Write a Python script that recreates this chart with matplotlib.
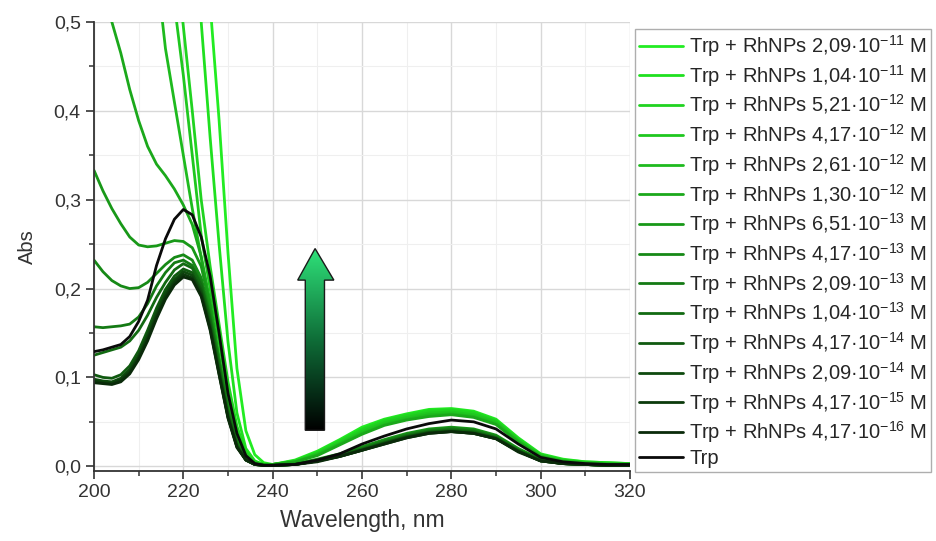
import numpy as np
import matplotlib
matplotlib.use('Agg')
import matplotlib.pyplot as plt
from matplotlib.patches import Polygon
from matplotlib.colors import LinearSegmentedColormap
from matplotlib.ticker import MultipleLocator, FuncFormatter

plt.rcParams['font.family'] = ['Liberation Sans', 'DejaVu Sans']
plt.rcParams['mathtext.fontset'] = 'custom'
plt.rcParams['mathtext.rm'] = 'Liberation Sans'
plt.rcParams['mathtext.it'] = 'Liberation Sans:italic'
plt.rcParams['mathtext.bf'] = 'Liberation Sans:bold'

# ---------------- data ----------------
wavelength = [200, 202, 204, 206, 208, 210, 212, 214, 216, 218, 220, 222, 224, 226, 228,
              230, 232, 234, 236, 238, 240, 245, 250, 255, 260, 265, 270, 275, 280, 285,
              290, 295, 300, 305, 310, 315, 320]

labels = [
    "Trp + RhNPs 2,09·10$^{-11}$ M",
    "Trp + RhNPs 1,04·10$^{-11}$ M",
    "Trp + RhNPs 5,21·10$^{-12}$ M",
    "Trp + RhNPs 4,17·10$^{-12}$ M",
    "Trp + RhNPs 2,61·10$^{-12}$ M",
    "Trp + RhNPs 1,30·10$^{-12}$ M",
    "Trp + RhNPs 6,51·10$^{-13}$ M",
    "Trp + RhNPs 4,17·10$^{-13}$ M",
    "Trp + RhNPs 2,09·10$^{-13}$ M",
    "Trp + RhNPs 1,04·10$^{-13}$ M",
    "Trp + RhNPs 4,17·10$^{-14}$ M",
    "Trp + RhNPs 2,09·10$^{-14}$ M",
    "Trp + RhNPs 4,17·10$^{-15}$ M",
    "Trp + RhNPs 4,17·10$^{-16}$ M",
    "Trp",
]

abs_2_09e11 = [2.00, 1.90, 1.80, 1.70, 1.60, 1.50, 1.40, 1.30, 1.20, 1.05, 0.92, 0.78, 0.65, 0.52, 0.39,
               0.24, 0.11, 0.040, 0.013, 0.004, 0.002, 0.007, 0.017, 0.030, 0.044, 0.053, 0.059, 0.064, 0.065, 0.062,
               0.053, 0.032, 0.014, 0.008, 0.005, 0.004, 0.003]
abs_1_04e11 = [1.80, 1.70, 1.60, 1.50, 1.40, 1.30, 1.20, 1.10, 0.98, 0.86, 0.74, 0.62, 0.50, 0.37, 0.25,
               0.14, 0.060, 0.020, 0.006, 0.002, 0.002, 0.006, 0.016, 0.029, 0.042, 0.052, 0.058, 0.063, 0.064, 0.061,
               0.052, 0.031, 0.013, 0.007, 0.005, 0.004, 0.003]
abs_5_21e12 = [1.50, 1.40, 1.30, 1.20, 1.10, 1.00, 0.90, 0.80, 0.69, 0.59, 0.495, 0.40, 0.30, 0.225, 0.16,
               0.095, 0.045, 0.016, 0.005, 0.002, 0.002, 0.006, 0.015, 0.028, 0.041, 0.051, 0.057, 0.062, 0.063, 0.060,
               0.051, 0.030, 0.013, 0.007, 0.004, 0.003, 0.003]
abs_4_17e12 = [1.40, 1.30, 1.20, 1.10, 1.00, 0.90, 0.80, 0.70, 0.60, 0.52, 0.44, 0.35, 0.26, 0.20, 0.14,
               0.08, 0.037, 0.013, 0.004, 0.002, 0.002, 0.005, 0.014, 0.026, 0.039, 0.049, 0.055, 0.060, 0.061, 0.058,
               0.050, 0.029, 0.012, 0.006, 0.004, 0.003, 0.003]
abs_2_61e12 = [1.20, 1.10, 1.00, 0.90, 0.80, 0.71, 0.64, 0.56, 0.47, 0.41, 0.35, 0.29, 0.235, 0.18, 0.12,
               0.07, 0.032, 0.011, 0.003, 0.002, 0.002, 0.005, 0.013, 0.025, 0.037, 0.047, 0.053, 0.058, 0.059, 0.056,
               0.048, 0.028, 0.011, 0.006, 0.004, 0.003, 0.002]
abs_1_30e12 = [0.59, 0.545, 0.50, 0.465, 0.424, 0.389, 0.360, 0.340, 0.327, 0.312, 0.294, 0.272, 0.236, 0.185, 0.122,
               0.066, 0.029, 0.010, 0.003, 0.002, 0.002, 0.005, 0.012, 0.024, 0.036, 0.046, 0.052, 0.056, 0.058, 0.055,
               0.047, 0.027, 0.011, 0.005, 0.003, 0.002, 0.002]
abs_6_51e13 = [0.333, 0.310, 0.290, 0.273, 0.258, 0.249, 0.247, 0.248, 0.251, 0.254, 0.253, 0.246, 0.225, 0.180, 0.120,
               0.065, 0.028, 0.009, 0.003, 0.001, 0.001, 0.003, 0.008, 0.014, 0.022, 0.030, 0.037, 0.042, 0.044, 0.042,
               0.035, 0.020, 0.008, 0.004, 0.002, 0.002, 0.001]
abs_4_17e13 = [0.232, 0.219, 0.209, 0.203, 0.200, 0.201, 0.207, 0.217, 0.227, 0.235, 0.238, 0.232, 0.212, 0.172, 0.118,
               0.064, 0.027, 0.009, 0.003, 0.001, 0.001, 0.002, 0.007, 0.013, 0.021, 0.029, 0.036, 0.041, 0.043, 0.041,
               0.034, 0.019, 0.007, 0.003, 0.002, 0.001, 0.001]
abs_2_09e13 = [0.157, 0.156, 0.157, 0.158, 0.160, 0.168, 0.183, 0.203, 0.218, 0.229, 0.232, 0.226, 0.207, 0.168, 0.115,
               0.062, 0.026, 0.008, 0.003, 0.001, 0.001, 0.002, 0.007, 0.013, 0.020, 0.028, 0.035, 0.040, 0.042, 0.040,
               0.033, 0.018, 0.007, 0.003, 0.002, 0.001, 0.001]
abs_1_04e13 = [0.125, 0.128, 0.131, 0.134, 0.141, 0.153, 0.170, 0.190, 0.207, 0.221, 0.228, 0.223, 0.204, 0.165, 0.112,
               0.060, 0.025, 0.008, 0.002, 0.001, 0.001, 0.002, 0.006, 0.012, 0.019, 0.027, 0.034, 0.039, 0.041, 0.039,
               0.032, 0.018, 0.007, 0.003, 0.002, 0.001, 0.001]
abs_4_17e14 = [0.103, 0.100, 0.099, 0.103, 0.113, 0.130, 0.153, 0.178, 0.199, 0.214, 0.222, 0.218, 0.199, 0.160, 0.108,
               0.057, 0.023, 0.007, 0.002, 0.001, 0.001, 0.002, 0.006, 0.012, 0.019, 0.026, 0.033, 0.038, 0.040, 0.038,
               0.032, 0.017, 0.006, 0.003, 0.002, 0.001, 0.001]
abs_2_09e14 = [0.098, 0.096, 0.095, 0.099, 0.109, 0.125, 0.148, 0.173, 0.195, 0.210, 0.219, 0.215, 0.196, 0.157, 0.106,
               0.056, 0.022, 0.007, 0.002, 0.001, 0.001, 0.002, 0.006, 0.011, 0.018, 0.026, 0.033, 0.038, 0.039, 0.037,
               0.031, 0.017, 0.006, 0.003, 0.002, 0.001, 0.001]
abs_4_17e15 = [0.096, 0.094, 0.093, 0.097, 0.106, 0.122, 0.144, 0.169, 0.191, 0.207, 0.216, 0.212, 0.193, 0.155, 0.104,
               0.055, 0.022, 0.007, 0.002, 0.001, 0.001, 0.002, 0.006, 0.011, 0.018, 0.025, 0.032, 0.037, 0.039, 0.037,
               0.031, 0.017, 0.006, 0.003, 0.002, 0.001, 0.001]
abs_4_17e16 = [0.094, 0.093, 0.092, 0.095, 0.104, 0.120, 0.141, 0.166, 0.188, 0.204, 0.213, 0.210, 0.191, 0.153, 0.103,
               0.054, 0.021, 0.007, 0.002, 0.001, 0.001, 0.002, 0.005, 0.011, 0.018, 0.025, 0.032, 0.037, 0.039, 0.037,
               0.031, 0.016, 0.006, 0.003, 0.002, 0.001, 0.001]
abs_trp = [0.129, 0.131, 0.134, 0.137, 0.146, 0.163, 0.187, 0.226, 0.256, 0.278, 0.289, 0.283, 0.258, 0.214, 0.150,
           0.082, 0.037, 0.012, 0.003, 0.001, 0.001, 0.002, 0.007, 0.014, 0.025, 0.034, 0.042, 0.048, 0.052, 0.050,
           0.042, 0.025, 0.010, 0.005, 0.003, 0.002, 0.002]

series = [abs_2_09e11, abs_1_04e11, abs_5_21e12, abs_4_17e12, abs_2_61e12, abs_1_30e12,
          abs_6_51e13, abs_4_17e13, abs_2_09e13, abs_1_04e13, abs_4_17e14, abs_2_09e14,
          abs_4_17e15, abs_4_17e16, abs_trp]

colors = ['#22ec22', '#1fe01f', '#20d320', '#1fc71f', '#1eba1e', '#1ba81b', '#189818',
          '#168916', '#147a14', '#126a12', '#105a10', '#0e4a0e', '#0c3a0c', '#0a2a0a', '#0a0a0a']

# ---------------- figure ----------------
fig = plt.figure(figsize=(9.36, 5.41), dpi=100)
ax = fig.add_axes([94 / 936, 1 - 470.7 / 541, (630 - 94) / 936, (470.7 - 22) / 541])

handles = []
for vals, col, lab in zip(series, colors, labels):
    h, = ax.plot(wavelength, vals, color=col, lw=2.0, label=lab,
                 solid_joinstyle='round', solid_capstyle='round')
    handles.append(h)
handles[-1].set_zorder(5)

ax.set_xlim(200, 320)
ax.set_ylim(-0.005, 0.5)

ax.xaxis.set_major_locator(MultipleLocator(20))
ax.xaxis.set_minor_locator(MultipleLocator(10))
ax.yaxis.set_major_locator(MultipleLocator(0.1))
ax.yaxis.set_minor_locator(MultipleLocator(0.05))
ax.yaxis.set_major_formatter(FuncFormatter(lambda v, p: f"{v:.1f}".replace('.', ',')))
ax.xaxis.set_major_formatter(FuncFormatter(lambda v, p: f"{v:.0f}"))

ax.grid(which='major', color='#d8d8d8', lw=1.0)
ax.grid(which='minor', color='#efefef', lw=0.8)
ax.set_axisbelow(True)

for s in ['top', 'right']:
    ax.spines[s].set_visible(False)
for s in ['left', 'bottom']:
    ax.spines[s].set_linewidth(1.3)
    ax.spines[s].set_color('#333333')

ax.tick_params(which='major', direction='out', length=6, width=1.2, colors='#333333',
               labelsize=14, labelcolor='#333333')
ax.tick_params(which='minor', direction='out', length=3.5, width=1.1, colors='#333333')

ax.set_xlabel("Wavelength, nm", fontsize=16.5, color='#333333', labelpad=6)
ax.set_ylabel("Abs", fontsize=14.5, color='#333333', labelpad=12)

# gradient arrow (annotation)
arrow_verts = [(247.3, 0.0405), (251.6, 0.0405), (251.6, 0.2095), (253.7, 0.2095),
               (249.5, 0.245), (245.6, 0.2095), (247.3, 0.2095)]
cmap = LinearSegmentedColormap.from_list('arrowgrad', ['#000000', '#0f6e38', '#2fe27a'])
grad = np.linspace(0, 1, 256).reshape(-1, 1)
im = ax.imshow(grad, extent=[245.6, 253.7, 0.0405, 0.245], origin='lower', cmap=cmap,
               aspect='auto', zorder=6, interpolation='bicubic')
poly = Polygon(arrow_verts, closed=True, fc='none', ec='#1a1a1a', lw=1.0, zorder=7)
ax.add_patch(poly)
im.set_clip_path(poly)
ax.set_xlim(200, 320)
ax.set_ylim(-0.005, 0.5)

leg = fig.legend(handles=handles, loc='upper left', bbox_to_anchor=(635 / 936, 1 - 29 / 541),
                 bbox_transform=fig.transFigure, fontsize=14.5, frameon=True, fancybox=False,
                 borderaxespad=0, borderpad=0.2, handlelength=2.2, handletextpad=0.3,
                 labelspacing=0.19)
leg.get_frame().set_edgecolor('#9a9a9a')
leg.get_frame().set_linewidth(1.0)
for t in leg.get_texts():
    t.set_color('#262626')

fig.savefig('out.png', dpi=100)
